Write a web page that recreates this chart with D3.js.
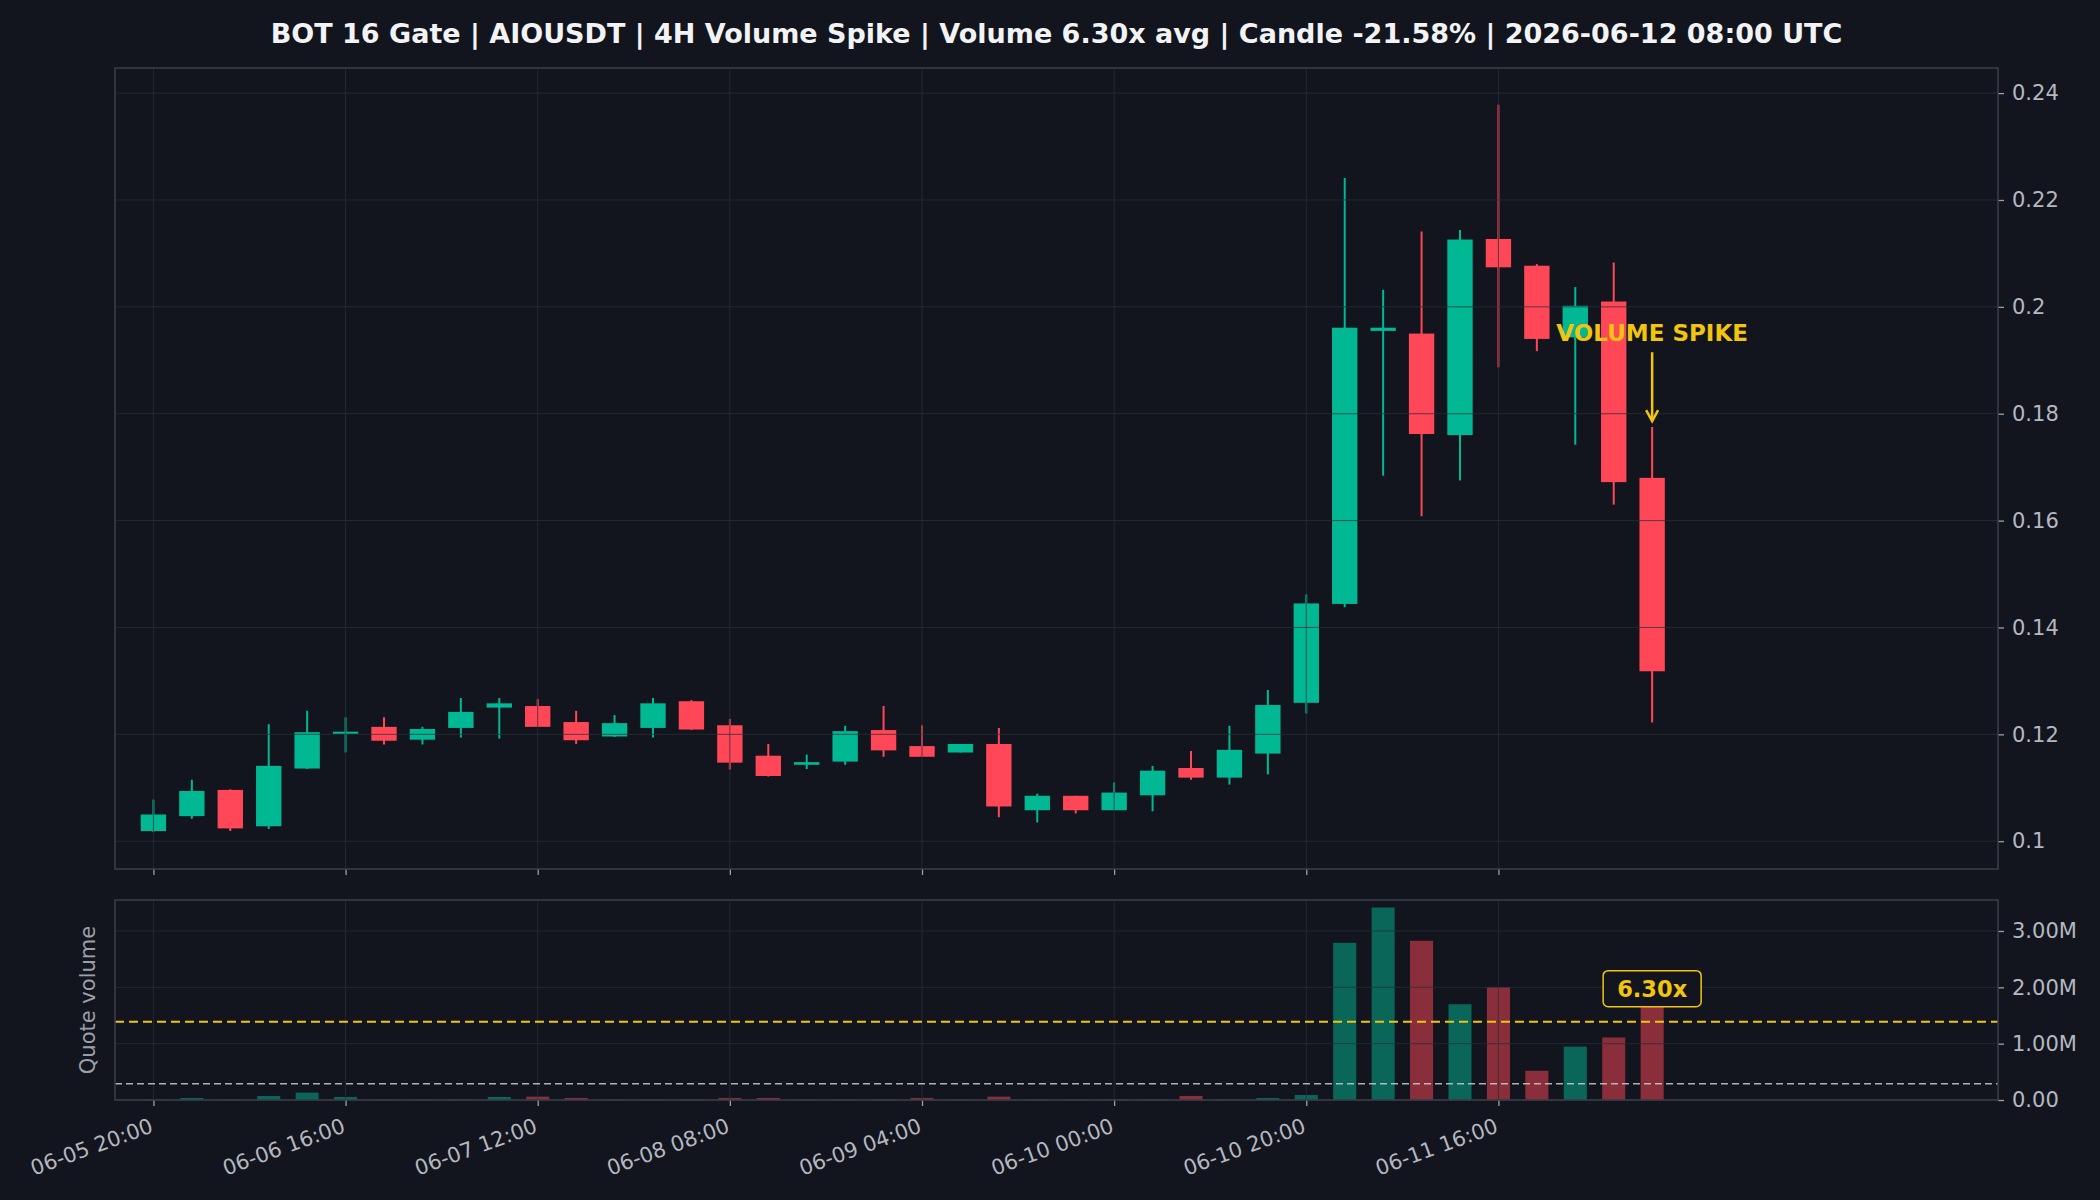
<!DOCTYPE html>
<html>
<head>
<meta charset="utf-8">
<script src="https://cdn.jsdelivr.net/npm/d3@7/dist/d3.min.js"></script>
<style>
  html, body { margin: 0; padding: 0; background: #12151d; }
  svg { display: block; }
  text { font-family: "DejaVu Sans", sans-serif; }
</style>
</head>
<body>
<svg id="chart" width="2100" height="1200"></svg>
<script>
// ---------------- DATA ----------------
const titleText = "BOT 16 Gate | AIOUSDT | 4H Volume Spike | Volume 6.30x avg | Candle -21.58% | 2026-06-12 08:00 UTC";

const times = [
  "06-05 20:00","06-06 00:00","06-06 04:00","06-06 08:00","06-06 12:00","06-06 16:00","06-06 20:00",
  "06-07 00:00","06-07 04:00","06-07 08:00","06-07 12:00","06-07 16:00","06-07 20:00",
  "06-08 00:00","06-08 04:00","06-08 08:00","06-08 12:00","06-08 16:00","06-08 20:00",
  "06-09 00:00","06-09 04:00","06-09 08:00","06-09 12:00","06-09 16:00","06-09 20:00",
  "06-10 00:00","06-10 04:00","06-10 08:00","06-10 12:00","06-10 16:00","06-10 20:00",
  "06-11 00:00","06-11 04:00","06-11 08:00","06-11 12:00","06-11 16:00","06-11 20:00",
  "06-12 00:00","06-12 04:00","06-12 08:00"
];

const opens  = [0.1019,0.1047,0.1096,0.1028,0.1136,0.1201,0.1214,0.1190,0.1212,0.1250,
                0.1253,0.1223,0.1196,0.1212,0.1262,0.1217,0.1160,0.1143,0.1149,0.1208,
                0.1178,0.1166,0.1182,0.1058,0.1085,0.1058,0.1086,0.1137,0.1119,0.1164,
                0.1259,0.1444,0.1955,0.1950,0.1760,0.2127,0.2077,0.1943,0.2010,0.1680];
const highs  = [0.1078,0.1115,0.1097,0.1219,0.1244,0.1232,0.1232,0.1214,0.1268,0.1268,
                0.1266,0.1244,0.1236,0.1268,0.1264,0.1229,0.1182,0.1162,0.1216,0.1253,
                0.1217,0.1182,0.1212,0.1089,0.1085,0.1110,0.1141,0.1169,0.1216,0.1283,
                0.1462,0.2241,0.2032,0.2141,0.2144,0.2378,0.2080,0.2037,0.2083,0.1775];
const lows   = [0.1017,0.1042,0.1019,0.1023,0.1135,0.1166,0.1181,0.1181,0.1194,0.1192,
                0.1214,0.1182,0.1195,0.1194,0.1208,0.1134,0.1121,0.1135,0.1143,0.1158,
                0.1158,0.1166,0.1045,0.1035,0.1052,0.1058,0.1056,0.1115,0.1106,0.1125,
                0.1239,0.1438,0.1684,0.1608,0.1675,0.1887,0.1917,0.1742,0.1630,0.1222];
const closes = [0.1050,0.1094,0.1024,0.1141,0.1204,0.1205,0.1188,0.1210,0.1242,0.1258,
                0.1214,0.1189,0.1221,0.1258,0.1209,0.1147,0.1122,0.1148,0.1206,0.1170,
                0.1158,0.1182,0.1065,0.1085,0.1058,0.1091,0.1132,0.1119,0.1171,0.1255,
                0.1445,0.1961,0.1961,0.1762,0.2126,0.2074,0.1940,0.2002,0.1672,0.1318];
// quote volume, millions
const volumes = [0.004,0.036,0.004,0.072,0.131,0.054,0.004,0.004,0.010,0.054,
                 0.060,0.036,0.004,0.004,0.008,0.036,0.036,0.004,0.004,0.008,
                 0.036,0.004,0.060,0.008,0.004,0.010,0.008,0.072,0.010,0.036,
                 0.089,2.790,3.417,2.826,1.700,2.004,0.519,0.948,1.109,1.830];

const avgVolume = 0.29;        // M, white dashed line
const spikeThreshold = 1.39;   // M, yellow dashed line
const spikeLabel = "6.30x";
const spikeText = "VOLUME SPIKE";

const xTickLabels = ["06-05 20:00","06-06 16:00","06-07 12:00","06-08 08:00",
                     "06-09 04:00","06-10 00:00","06-10 20:00","06-11 16:00"];
const priceTicks = [0.1,0.12,0.14,0.16,0.18,0.2,0.22,0.24];
const volTicks = [0,1,2,3];
const volTickLabels = ["0.00","1.00M","2.00M","3.00M"];
const priceDomain = [0.0948, 0.2447];
const volDomain = [0, 3.55];
const xDomainStr = ["2026-06-05T16:00Z","2026-06-13T20:00Z"];

// ---------------- STYLE ----------------
const BG = "#12151d";
const UP = "#00b894";
const DOWN = "#ff4757";
const YEL = "#f1c40f";
const GRID = "#2a2f3a";
const SPINE = "#3a3f4a";
const TICKTXT = "#b4b8c0";
const FS = 21;

const parseT = s => new Date("2026-" + s.replace(" ", "T") + ":00Z");
const data = times.map((t, i) => ({
  t: parseT(t), o: opens[i], h: highs[i], l: lows[i], c: closes[i], v: volumes[i], up: closes[i] >= opens[i]
}));

const svg = d3.select("#chart");
svg.append("rect").attr("width", 2100).attr("height", 1200).attr("fill", BG);

const L = 115, R = 1998;
const mainTop = 68, mainBot = 869;
const volTop = 900, volBot = 1100;

const x = d3.scaleUtc().domain(xDomainStr.map(s => new Date(s))).range([L, R]);
const y = d3.scaleLinear().domain(priceDomain).range([mainBot, mainTop]);
const yv = d3.scaleLinear().domain(volDomain).range([volBot, volTop]);

const step = x(data[1].t) - x(data[0].t);
const bodyW = step * 0.66;
const volW = step * 0.6;
const xTickDates = xTickLabels.map(parseT);

// Title
svg.append("text").attr("x", (L + R) / 2).attr("y", 43)
  .attr("text-anchor", "middle").attr("fill", "#f2f3f5")
  .attr("font-size", 27).attr("font-weight", "bold").text(titleText);

// ---------- Main panel ----------
const gMain = svg.append("g");
const cg = gMain.append("g");
cg.selectAll("line.wick").data(data).join("line")
  .attr("x1", d => x(d.t)).attr("x2", d => x(d.t))
  .attr("y1", d => y(d.h)).attr("y2", d => y(d.l))
  .attr("stroke", d => d.up ? UP : DOWN).attr("stroke-width", 2);
cg.selectAll("rect.body").data(data).join("rect")
  .attr("x", d => x(d.t) - bodyW / 2).attr("width", bodyW)
  .attr("y", d => y(Math.max(d.o, d.c)))
  .attr("height", d => Math.max(2, Math.abs(y(d.o) - y(d.c))))
  .attr("fill", d => d.up ? UP : DOWN);

// grid (drawn above candles, as in reference)
const gridG = gMain.append("g").attr("stroke", GRID).attr("stroke-width", 1).attr("opacity", 0.75);
gridG.selectAll("line.h").data(priceTicks).join("line")
  .attr("x1", L).attr("x2", R).attr("y1", d => y(d)).attr("y2", d => y(d));
gridG.selectAll("line.v").data(xTickDates).join("line")
  .attr("x1", d => x(d)).attr("x2", d => x(d)).attr("y1", mainTop).attr("y2", mainBot);

// right axis
const yAxis = d3.axisRight(y).tickValues(priceTicks).tickSize(6).tickPadding(8)
  .tickFormat(d => String(+d.toFixed(2)));
const ya = svg.append("g").attr("transform", `translate(${R},0)`).call(yAxis);
const xaMain = svg.append("g").attr("transform", `translate(0,${mainBot})`)
  .call(d3.axisBottom(x).tickValues(xTickDates).tickSize(6).tickFormat(""));

svg.append("rect").attr("x", L).attr("y", mainTop).attr("width", R - L).attr("height", mainBot - mainTop)
  .attr("fill", "none").attr("stroke", SPINE).attr("stroke-width", 1.5);

// annotation
const last = data[data.length - 1];
const ax = x(last.t);
const textY = y(last.h * 1.10);
svg.append("text").attr("x", ax).attr("y", textY).attr("dy", "0.36em")
  .attr("text-anchor", "middle").attr("fill", YEL).attr("font-weight", "bold")
  .attr("font-size", 23).text(spikeText);
const tipY = y(last.h) - 6;
svg.append("line").attr("x1", ax).attr("x2", ax).attr("y1", textY + 20).attr("y2", tipY)
  .attr("stroke", YEL).attr("stroke-width", 2.5);
svg.append("path")
  .attr("d", `M${ax - 6},${tipY - 11} L${ax},${tipY} L${ax + 6},${tipY - 11}`)
  .attr("fill", "none").attr("stroke", YEL).attr("stroke-width", 2.5);

// ---------- Volume panel ----------
const gVol = svg.append("g");
gVol.selectAll("rect.vol").data(data).join("rect")
  .attr("x", d => x(d.t) - volW / 2).attr("width", volW)
  .attr("y", d => yv(d.v)).attr("height", d => yv(0) - yv(d.v))
  .attr("fill", d => d.up ? UP : DOWN).attr("opacity", 0.5);

const gridV = gVol.append("g").attr("stroke", GRID).attr("stroke-width", 1).attr("opacity", 0.75);
gridV.selectAll("line.h").data(volTicks).join("line")
  .attr("x1", L).attr("x2", R).attr("y1", d => yv(d)).attr("y2", d => yv(d));
gridV.selectAll("line.v").data(xTickDates).join("line")
  .attr("x1", d => x(d)).attr("x2", d => x(d)).attr("y1", volTop).attr("y2", volBot);

gVol.append("line").attr("x1", L).attr("x2", R)
  .attr("y1", yv(spikeThreshold)).attr("y2", yv(spikeThreshold))
  .attr("stroke", YEL).attr("stroke-width", 2).attr("stroke-dasharray", "9,5");
gVol.append("line").attr("x1", L).attr("x2", R)
  .attr("y1", yv(avgVolume)).attr("y2", yv(avgVolume))
  .attr("stroke", "#c9ccd3").attr("stroke-width", 1.5).attr("stroke-dasharray", "7,4").attr("opacity", 0.85);

// 6.30x label
const lblY = yv(last.v * 1.08);
const lg = svg.append("g").attr("transform", `translate(${ax},${lblY})`);
lg.append("rect").attr("x", -49).attr("y", -18).attr("width", 98).attr("height", 36)
  .attr("rx", 5).attr("fill", BG).attr("stroke", YEL).attr("stroke-width", 1.5);
lg.append("text").attr("text-anchor", "middle").attr("dy", "0.36em")
  .attr("fill", YEL).attr("font-weight", "bold").attr("font-size", 22.5).text(spikeLabel);

const yva = svg.append("g").attr("transform", `translate(${R},0)`)
  .call(d3.axisRight(yv).tickValues(volTicks).tickSize(6).tickPadding(8)
    .tickFormat((d, i) => volTickLabels[i]));

const xa = svg.append("g").attr("transform", `translate(0,${volBot})`)
  .call(d3.axisBottom(x).tickValues(xTickDates).tickSize(6)
    .tickFormat((d, i) => xTickLabels[i]));
xa.selectAll(".tick text")
  .attr("x", 0).attr("y", 0).attr("dy", "0.75em")
  .attr("transform", "translate(-5,17) rotate(-20)")
  .style("text-anchor", "end");

svg.append("rect").attr("x", L).attr("y", volTop).attr("width", R - L).attr("height", volBot - volTop)
  .attr("fill", "none").attr("stroke", SPINE).attr("stroke-width", 1.5);

svg.append("text").attr("transform", `translate(95,${(volTop + volBot) / 2}) rotate(-90)`)
  .attr("text-anchor", "middle").attr("fill", "#9aa0aa").attr("font-size", FS).text("Quote volume");

[ya, xaMain, yva, xa].forEach(g => {
  g.select(".domain").remove();
  g.selectAll(".tick line").attr("stroke", "#9aa0aa").attr("stroke-width", 1.3);
  g.selectAll(".tick text").attr("fill", TICKTXT).attr("font-size", FS)
    .style("font-family", "DejaVu Sans, sans-serif");
});
</script>
</body>
</html>
